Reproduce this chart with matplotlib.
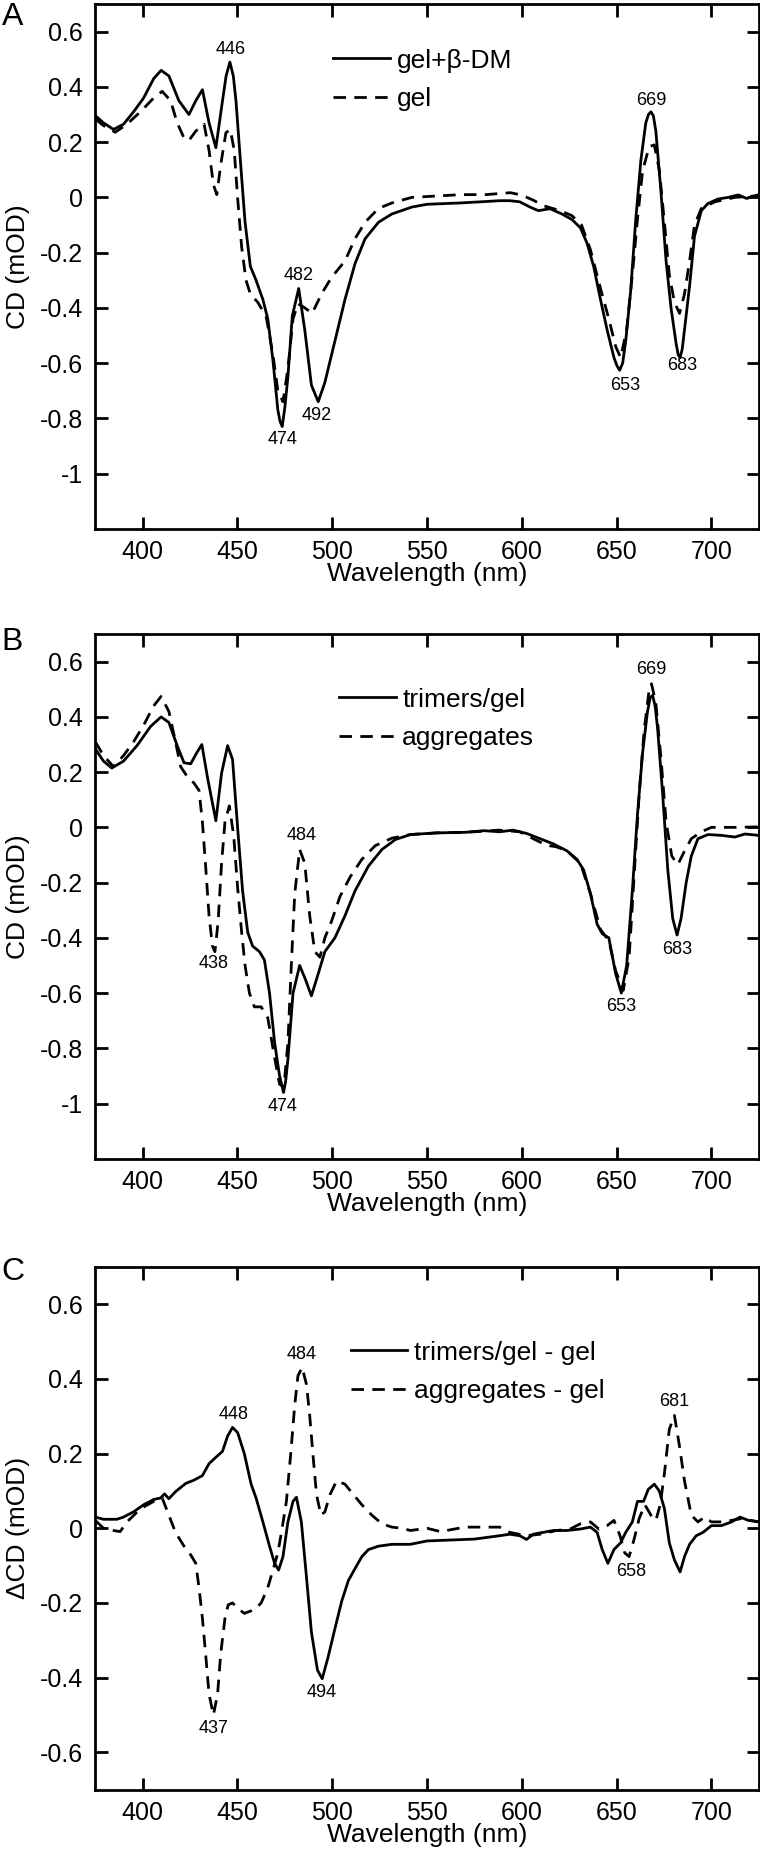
import matplotlib.pyplot as plt

plt.rcParams['font.family'] = ['Liberation Sans', 'DejaVu Sans']
plt.rcParams['axes.unicode_minus'] = False

# ---- panel A : gel+beta-DM (solid) and gel (dashed)
wl_a_dm = [375, 379.3, 384.6, 389.9, 395.2, 400.5, 405.8, 409.7, 413.8, 419.1, 424.4, 428, 431.5, 435,
           438.6, 442.1, 444, 446, 447.8, 449.2, 451.9, 454, 456.8, 459.8, 463.4, 466, 468.7, 471.3, 472.4,
           473.6, 475, 476.6, 478.9, 482.3, 485.5, 489, 492.6, 496.1, 501.4, 506.7, 512, 517.3, 524.4,
           531.5, 542, 550, 568, 581, 588.3, 593.6, 598.9, 604.3, 608.7, 614.9, 621.1, 626.4, 630.9,
           634.4, 637.9, 641.5, 645, 648.6, 650.2, 651.6, 653.2, 654.8, 657.4, 660.1, 662.8, 665.4, 666.8,
           668.1, 669.4, 670.7, 673.4, 676.1, 678.7, 681.4, 682.5, 683.5, 684.6, 685.8, 688.5, 691.1,
           694.7, 698.2, 703.5, 708.9, 714.2, 718.6, 725]
cd_a_dm = [0.296, 0.27, 0.246, 0.265, 0.31, 0.36, 0.43, 0.46, 0.44, 0.35, 0.30, 0.35, 0.39, 0.27,
           0.18, 0.35, 0.44, 0.49, 0.44, 0.35, 0.10, -0.09, -0.25, -0.30, -0.37, -0.44, -0.59, -0.77, -0.81,
           -0.83, -0.76, -0.65, -0.43, -0.33, -0.48, -0.68, -0.74, -0.67, -0.52, -0.37, -0.24, -0.15, -0.09,
           -0.06, -0.035, -0.025, -0.02, -0.015, -0.012, -0.012, -0.016, -0.035, -0.048, -0.041, -0.06, -0.08, -0.11,
           -0.166, -0.25, -0.37, -0.48, -0.58, -0.61, -0.626, -0.60, -0.52, -0.34, -0.08, 0.134, 0.27, 0.30,
           0.31, 0.295, 0.24, 0.02, -0.23, -0.40, -0.53, -0.57, -0.58, -0.55, -0.48, -0.32, -0.14,
           -0.048, -0.022, -0.006, 0, 0.009, -0.004, 0.01]

wl_a_gel = [375, 379.3, 385.5, 391.7, 398.8, 405.8, 410.3, 414.7, 418.2, 421.8, 424.4, 428, 432.4, 435,
            437.3, 439.1, 441.2, 443.9, 446.2, 448.3, 450.1, 452.2, 454.5, 456.8, 460.7, 465.1, 468.7,
            471.3, 474, 476.6, 479.3, 481.9, 485.5, 489.4, 494.3, 499.6, 506.7, 512, 517.3, 524.4, 531.5,
            542, 555, 568, 581, 594, 600, 606, 611.3, 620.2, 626.4, 631.5, 636.2, 641.5, 645.9, 649.5,
            652.1, 655.3, 658.3, 661, 663.7, 667.2, 669.9, 672.6, 675.2, 677.8, 680.5, 683.2, 685.8,
            688.5, 691.1, 694.7, 701.8, 712.4, 725]
cd_a_gel = [0.284, 0.26, 0.236, 0.265, 0.31, 0.36, 0.384, 0.35, 0.27, 0.215, 0.206, 0.24, 0.265, 0.17,
            0.046, 0.01, 0.12, 0.234, 0.246, 0.17, -0.004, -0.18, -0.30, -0.35, -0.38, -0.43, -0.57,
            -0.70, -0.74, -0.62, -0.44, -0.385, -0.40, -0.42, -0.35, -0.29, -0.23, -0.15, -0.09, -0.04, -0.02,
            0.0, 0.005, 0.01, 0.01, 0.017, 0.008, -0.01, -0.03, -0.048, -0.066, -0.10, -0.19, -0.33, -0.44, -0.54,
            -0.58, -0.48, -0.28, -0.08, 0.096, 0.184, 0.19, 0.096, -0.09, -0.28, -0.38, -0.42, -0.35,
            -0.23, -0.10, -0.04, -0.016, 0, 0.006]

# ---- panel B : trimers/gel (solid) and aggregates (dashed)
wl_b_tri = [375, 379.3, 383.7, 389.9, 397, 404.1, 409.7, 413.8, 418.2, 421.8, 425.3, 428.5, 431.2, 434.2,
            438.6, 441.6, 444.8, 447.4, 450.1, 452.7, 455.4, 458, 461.6, 464.2, 466.9, 469.6, 472.2, 474.3,
            475.4, 476.6, 479.3, 482.8, 485.8, 489, 492.6, 496.1, 501.4, 506.7, 512, 519.1, 526.2, 533.3,
            541.2, 555, 570, 580, 588.3, 595.4, 602.5, 609.6, 616.7, 623.8, 629.1, 632.6, 636.2, 639.7,
            642.4, 645.9, 649.5, 652.5, 655.3, 658.3, 661, 663.7, 666.3, 667.7, 669, 670.3, 671.6, 674.3,
            677, 679.6, 681.9, 684, 686.7, 689.4, 692.9, 698.2, 705.3, 712.4, 717.7, 725]
cd_b_tri = [0.284, 0.24, 0.215, 0.24, 0.296, 0.365, 0.40, 0.38, 0.296, 0.234, 0.23, 0.27, 0.30, 0.18,
            0.024, 0.196, 0.296, 0.246, -0.004, -0.23, -0.38, -0.43, -0.45, -0.48, -0.60, -0.78, -0.90, -0.96,
            -0.92, -0.84, -0.60, -0.50, -0.55, -0.61, -0.53, -0.45, -0.40, -0.32, -0.23, -0.14, -0.08, -0.044,
            -0.026, -0.02, -0.018, -0.012, -0.016, -0.01, -0.022, -0.041, -0.06, -0.085, -0.116, -0.154, -0.24, -0.35,
            -0.385, -0.40, -0.53, -0.60, -0.50, -0.23, 0.046, 0.27, 0.42, 0.47, 0.478, 0.44, 0.36, 0.12,
            -0.154, -0.33, -0.39, -0.33, -0.20, -0.104, -0.041, -0.026, -0.029, -0.035, -0.024, -0.029]

wl_b_agg = [375, 379.3, 384.6, 389.9, 395.2, 400.5, 405.8, 409.7, 413.8, 417.3, 420, 423.5, 427.1, 429.7,
            431.5, 433.3, 435, 436.8, 438.1, 439.8, 441.6, 443.4, 445.7, 448, 450.1, 452.2, 454, 456.3,
            458.9, 462.5, 466, 469.2, 472.2, 474.5, 476.6, 478.4, 480.2, 482.8, 485.5, 488.1, 490.8, 493.5,
            496.1, 499.6, 504.1, 509.4, 515.6, 522.7, 531.5, 541.2, 555, 570, 588, 598.9, 606, 613.1, 618,
            623.8, 630.9, 636.2, 641.5, 645.9, 649.5, 653.5, 656.6, 659.2, 661.9, 664.5, 667.2, 668.4,
            670.7, 673.4, 676.1, 679.1, 682.3, 685.5, 689.4, 694.7, 700, 712.4, 725]
cd_b_agg = [0.31, 0.26, 0.22, 0.26, 0.31, 0.37, 0.44, 0.474, 0.42, 0.31, 0.22, 0.184, 0.16, 0.134,
            0.02, -0.15, -0.32, -0.43, -0.45, -0.34, -0.13, 0.02, 0.078, -0.03, -0.22, -0.38, -0.50, -0.60,
            -0.65, -0.65, -0.69, -0.82, -0.93, -0.94, -0.78, -0.50, -0.24, -0.08, -0.13, -0.32, -0.45, -0.47,
            -0.40, -0.34, -0.25, -0.18, -0.116, -0.066, -0.039, -0.026, -0.02, -0.018, -0.01, -0.016, -0.041, -0.065, -0.07,
            -0.085, -0.13, -0.24, -0.37, -0.41, -0.52, -0.59, -0.47, -0.18, 0.12, 0.35, 0.50, 0.52,
            0.45, 0.25, 0.02, -0.104, -0.135, -0.09, -0.041, -0.016, 0, 0, 0.002]

# ---- panel C : difference spectra
wl_c_tri = [375, 379.3, 386.4, 389.9, 395.2, 400.5, 405.8, 409.4, 411.5, 413.8, 417.3, 422.7, 427.1, 431.5,
            435, 438.6, 442.1, 444.8, 447.4, 450.1, 453.6, 457.2, 459.8, 463.4, 466.9, 469.6, 471.7, 474,
            476.6, 479.3, 481.1, 483.7, 486.4, 489, 492.2, 494.7, 497.9, 501.4, 505, 508.5, 512, 515.6,
            519.1, 524.4, 531.5, 541.2, 550, 560, 575, 588.3, 593.6, 598.9, 602.5, 606, 611.3, 616.7,
            623.8, 630.9, 636.2, 639.7, 642.4, 645.4, 648.6, 652.1, 654.8, 658.3, 661, 664.2, 666.7,
            669.9, 672.5, 675.2, 677.8, 680.5, 683.5, 685.8, 688.5, 692, 695.6, 700, 705.3, 710.6, 715.1,
            719.5, 725]
dcd_c_tri = [0.03, 0.024, 0.024, 0.03, 0.044, 0.063, 0.077, 0.081, 0.092, 0.079, 0.098, 0.12, 0.129, 0.141,
             0.173, 0.19, 0.206, 0.247, 0.27, 0.256, 0.20, 0.118, 0.081, 0.017, -0.048, -0.094, -0.112, -0.076,
             0.017, 0.072, 0.083, 0.017, -0.131, -0.278, -0.38, -0.403, -0.343, -0.269, -0.195, -0.14, -0.108, -0.076,
             -0.057, -0.048, -0.043, -0.043, -0.034, -0.032, -0.029, -0.02, -0.016, -0.02, -0.03, -0.016, -0.011, -0.006,
             -0.006, -0.002, 0.003, -0.011, -0.057, -0.094, -0.057, -0.039, -0.011, 0.017, 0.072, 0.072, 0.104,
             0.118, 0.10, 0.053, -0.039, -0.085, -0.117, -0.076, -0.043, -0.02, -0.011, 0.007, 0.007, 0.017, 0.03,
             0.021, 0.017]

wl_c_agg = [375, 379.3, 384.6, 388.1, 391.7, 398.8, 405.8, 410.3, 413.8, 417.3, 421.8, 425.3, 428, 429.7,
            431.5, 433.3, 435, 437.3, 439.5, 441.2, 443.4, 445.1, 447.4, 450.1, 453.6, 458.9, 462.5, 466,
            468.7, 471.3, 473.5, 475.8, 478.1, 480.2, 481.9, 484.1, 486.4, 488.1, 489.9, 491.7, 494, 496.1,
            498.8, 502.3, 506.7, 511.2, 515.6, 520.9, 526.2, 531.5, 536.8, 541.2, 550, 557, 570, 588.3,
            593.6, 602.5, 609.6, 618.4, 625.5, 630.9, 636.2, 640.6, 645, 648.6, 651.8, 654.3, 656.6, 659.2,
            661.9, 664.9, 668.1, 670.7, 673, 675.2, 677.8, 680.5, 683.2, 685.8, 689.4, 692.9, 696.5, 700,
            705.3, 710.6, 715.9, 725]
dcd_c_agg = [0.021, 0, -0.006, -0.009, 0.017, 0.052, 0.072, 0.081, 0.035, -0.011, -0.048, -0.071, -0.094, -0.159,
             -0.241, -0.343, -0.444, -0.50, -0.444, -0.334, -0.241, -0.205, -0.20, -0.214, -0.228, -0.218, -0.20, -0.159,
             -0.112, -0.066, -0.002, 0.072, 0.20, 0.33, 0.408, 0.431, 0.385, 0.302, 0.192, 0.09, 0.035, 0.044,
             0.09, 0.127, 0.118, 0.09, 0.063, 0.035, 0.012, 0.003, 0, -0.006, 0, -0.009, 0.003, 0.003,
             -0.011, -0.02, -0.016, -0.006, -0.002, 0.012, 0.017, -0.002, 0.007, 0.021, -0.02, -0.066, -0.076, -0.03,
             0.026, 0.063, 0.035, 0.021, 0.063, 0.146, 0.265, 0.302, 0.219, 0.127, 0.035, 0.017, 0.03, 0.017,
             0.017, 0.021, 0.026, 0.017]

# peak labels (text, wavelength, value)
peaks_a = [('446', 446.2, 0.536), ('482', 482.3, -0.283), ('474', 474, -0.876), ('492', 492, -0.791),
           ('669', 668.1, 0.352), ('653', 654.3, -0.681), ('683', 684.6, -0.61)]
peaks_b = [('438', 437.3, -0.494), ('484', 483.7, -0.029), ('474', 474, -1.01),
           ('669', 668.1, 0.571), ('683', 681.9, -0.441), ('653', 652.5, -0.648)]
peaks_c = [('448', 447.8, 0.304), ('484', 484.1, 0.466), ('494', 494.3, -0.44), ('437', 437.3, -0.535),
           ('681', 680.5, 0.339), ('658', 657.8, -0.117)]

xticks = [400, 450, 500, 550, 600, 650, 700]
yticks_ab = [-1, -0.8, -0.6, -0.4, -0.2, 0, 0.2, 0.4, 0.6]
yticks_c = [-0.6, -0.4, -0.2, 0, 0.2, 0.4, 0.6]

fig = plt.figure(figsize=(7.6, 18.54), dpi=100)


def panel(rect, wl1, y1, wl2, y2, names, ylim, yticks, ylabel, peaks, leg_xy, letter, letter_y):
    ax = fig.add_axes(rect)
    ax.plot(wl1, y1, color='black', lw=2, label=names[0])
    ax.plot(wl2, y2, color='black', lw=2, dashes=(4.5, 3), label=names[1])
    ax.set_xlim(375, 725)
    ax.set_ylim(*ylim)
    ax.set_xticks(xticks)
    ax.set_yticks(yticks)
    ax.set_yticklabels(['%g' % t for t in yticks])
    ax.tick_params(direction='in', top=True, right=True, length=9, width=2, labelsize=18)
    ax.tick_params(axis='y', pad=9)
    ax.tick_params(axis='x', pad=8)
    for s in ax.spines.values():
        s.set_linewidth(2)
    ax.set_xlabel('Wavelength (nm)', fontsize=19)
    ax.xaxis.set_label_coords(0.5, -0.064)
    ax.set_ylabel(ylabel, fontsize=19)
    ax.yaxis.set_label_coords(-0.098, 0.5)
    for txt, x, y in peaks:
        ax.text(x, y, txt, ha='center', va='center', fontsize=13)
    ax.legend(loc='upper left', bbox_to_anchor=leg_xy, frameon=False, fontsize=19,
              handlelength=2.15, handletextpad=0.25, labelspacing=0.55, borderpad=0, borderaxespad=0)
    fig.text(0.002, letter_y, letter, fontsize=23, va='top')
    return ax


panel([0.1254, 0.7148, 0.873, 0.2830], wl_a_dm, cd_a_dm, wl_a_gel, cd_a_gel,
      ['gel+β-DM', 'gel'], (-1.2, 0.7), yticks_ab, 'CD (mOD)', peaks_a, (0.3586, 0.915), 'A', 0.999)
panel([0.1254, 0.3750, 0.873, 0.2830], wl_b_tri, cd_b_tri, wl_b_agg, cd_b_agg,
      ['trimers/gel', 'aggregates'], (-1.2, 0.7), yticks_ab, 'CD (mOD)', peaks_b, (0.367, 0.898), 'B', 0.662)
panel([0.1254, 0.0347, 0.873, 0.2820], wl_c_tri, dcd_c_tri, wl_c_agg, dcd_c_agg,
      ['trimers/gel - gel', 'aggregates - gel'], (-0.7, 0.7), yticks_c, 'ΔCD (mOD)', peaks_c, (0.385, 0.859), 'C', 0.322)

fig.savefig('out.png', dpi=100)
